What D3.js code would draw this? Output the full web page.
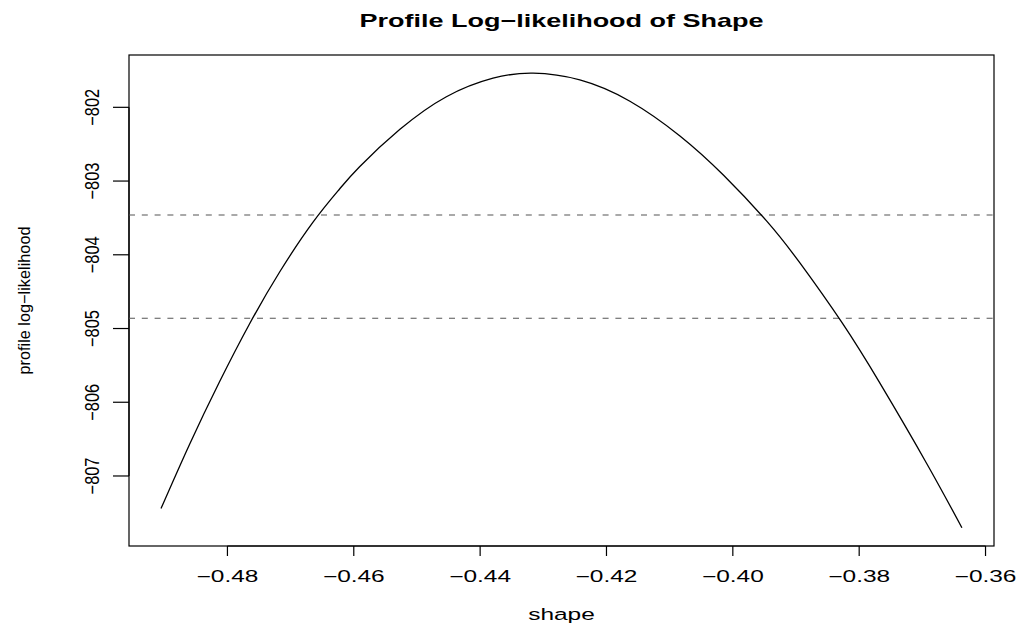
<!DOCTYPE html>
<html>
<head>
<meta charset="utf-8">
<script src="https://cdn.jsdelivr.net/npm/d3@7"></script>
<style>
  html, body { margin: 0; padding: 0; background: #fff; }
  svg { display: block; }
  text { font-family: "Liberation Sans", Arial, Helvetica, sans-serif; fill: #000; }
</style>
</head>
<body>
<svg id="chart" width="1020" height="628"></svg>
<script>
// Profile log-likelihood of the GEV shape parameter
const shapeVals = [-0.49051, -0.48602, -0.48127, -0.47651, -0.47176, -0.46648, -0.46225, -0.45908,
                   -0.45274, -0.44534, -0.43796, -0.43162, -0.42422, -0.41629, -0.40837, -0.40150,
                   -0.39463, -0.38935, -0.38274, -0.37667, -0.36927, -0.36373];
const logLik = [-807.441, -806.576, -805.726, -804.939, -804.237, -803.561, -803.108, -802.805,
                -802.302, -801.856, -801.605, -801.537, -801.628, -801.917, -802.388, -802.918,
                -803.544, -804.114, -804.918, -805.748, -806.837, -807.703];
// confidence cut-offs (95% and 99%)
const cutoffs = [-803.46, -804.86];
const xTicks = [-0.48, -0.46, -0.44, -0.42, -0.40, -0.38, -0.36];
const yTicks = [-807, -806, -805, -804, -803, -802];
const titleText = "Profile Log\u2212likelihood of Shape";
const xLabel = "shape";
const yLabel = "profile log\u2212likelihood";

const box = { left: 129, right: 994, top: 55, bottom: 546 };
const stretch = 1.5;
const fmtMinus = s => s.replace("-", "\u2212");

const svg = d3.select("#chart");

// R-style 4% padding around the data range
function padded(vals) {
  const [lo, hi] = d3.extent(vals);
  const p = (hi - lo) * 0.04;
  return [lo - p, hi + p];
}

const x = d3.scaleLinear().domain(padded(shapeVals)).range([box.left, box.right]);
const y = d3.scaleLinear().domain(padded(logLik)).range([box.bottom, box.top]);

// plot frame
svg.append("rect")
  .attr("x", box.left).attr("y", box.top)
  .attr("width", box.right - box.left).attr("height", box.bottom - box.top)
  .attr("fill", "none").attr("stroke", "#000").attr("stroke-width", 1.2);

// x axis ticks and labels
const xAxis = svg.append("g");
xAxis.append("line")
  .attr("x1", x(xTicks[0])).attr("x2", x(xTicks[xTicks.length - 1]))
  .attr("y1", box.bottom).attr("y2", box.bottom)
  .attr("stroke", "#000").attr("stroke-width", 1.2);
xTicks.forEach(t => {
  xAxis.append("line")
    .attr("x1", x(t)).attr("x2", x(t))
    .attr("y1", box.bottom).attr("y2", box.bottom + 10)
    .attr("stroke", "#000").attr("stroke-width", 1.2);
  xAxis.append("g")
    .attr("transform", `translate(${x(t)},582) scale(${stretch},1)`)
    .append("text")
    .attr("text-anchor", "middle")
    .attr("font-size", 16.3)
    .text(fmtMinus(t.toFixed(2)));
});

// y axis ticks and labels
const yAxis = svg.append("g");
yAxis.append("line")
  .attr("x1", box.left).attr("x2", box.left)
  .attr("y1", y(yTicks[0])).attr("y2", y(yTicks[yTicks.length - 1]))
  .attr("stroke", "#000").attr("stroke-width", 1.2);
yTicks.forEach(t => {
  yAxis.append("line")
    .attr("x1", box.left - 16).attr("x2", box.left)
    .attr("y1", y(t)).attr("y2", y(t))
    .attr("stroke", "#000").attr("stroke-width", 1.2);
  yAxis.append("g")
    .attr("transform", `translate(99,${y(t)}) scale(1.2,1) rotate(-90)`)
    .append("text")
    .attr("text-anchor", "middle")
    .attr("font-size", 16.4)
    .text(fmtMinus(String(t)));
});

// cut-off lines
svg.selectAll("line.cut").data(cutoffs).join("line")
  .attr("class", "cut")
  .attr("x1", box.left).attr("x2", box.right)
  .attr("y1", d => y(d)).attr("y2", d => y(d))
  .attr("stroke", "#555").attr("stroke-width", 1.1)
  .attr("stroke-dasharray", "6,6.8");

// profile curve
const line = d3.line()
  .x((d, i) => x(shapeVals[i]))
  .y(d => y(d))
  .curve(d3.curveNatural);
svg.append("path")
  .attr("d", line(logLik))
  .attr("fill", "none").attr("stroke", "#000").attr("stroke-width", 1.3);

// title and axis titles
svg.append("g")
  .attr("transform", `translate(${(box.left + box.right) / 2},27) scale(${stretch},1)`)
  .append("text")
  .attr("text-anchor", "middle")
  .attr("font-size", 18).attr("font-weight", "bold")
  .text(titleText);

svg.append("g")
  .attr("transform", `translate(${(box.left + box.right) / 2},620) scale(${stretch},1)`)
  .append("text")
  .attr("text-anchor", "middle")
  .attr("font-size", 16.3)
  .text(xLabel);

svg.append("g")
  .attr("transform", `translate(29.6,${(box.top + box.bottom) / 2}) rotate(-90)`)
  .append("text")
  .attr("text-anchor", "middle")
  .attr("font-size", 16.3)
  .text(yLabel);
</script>
</body>
</html>
